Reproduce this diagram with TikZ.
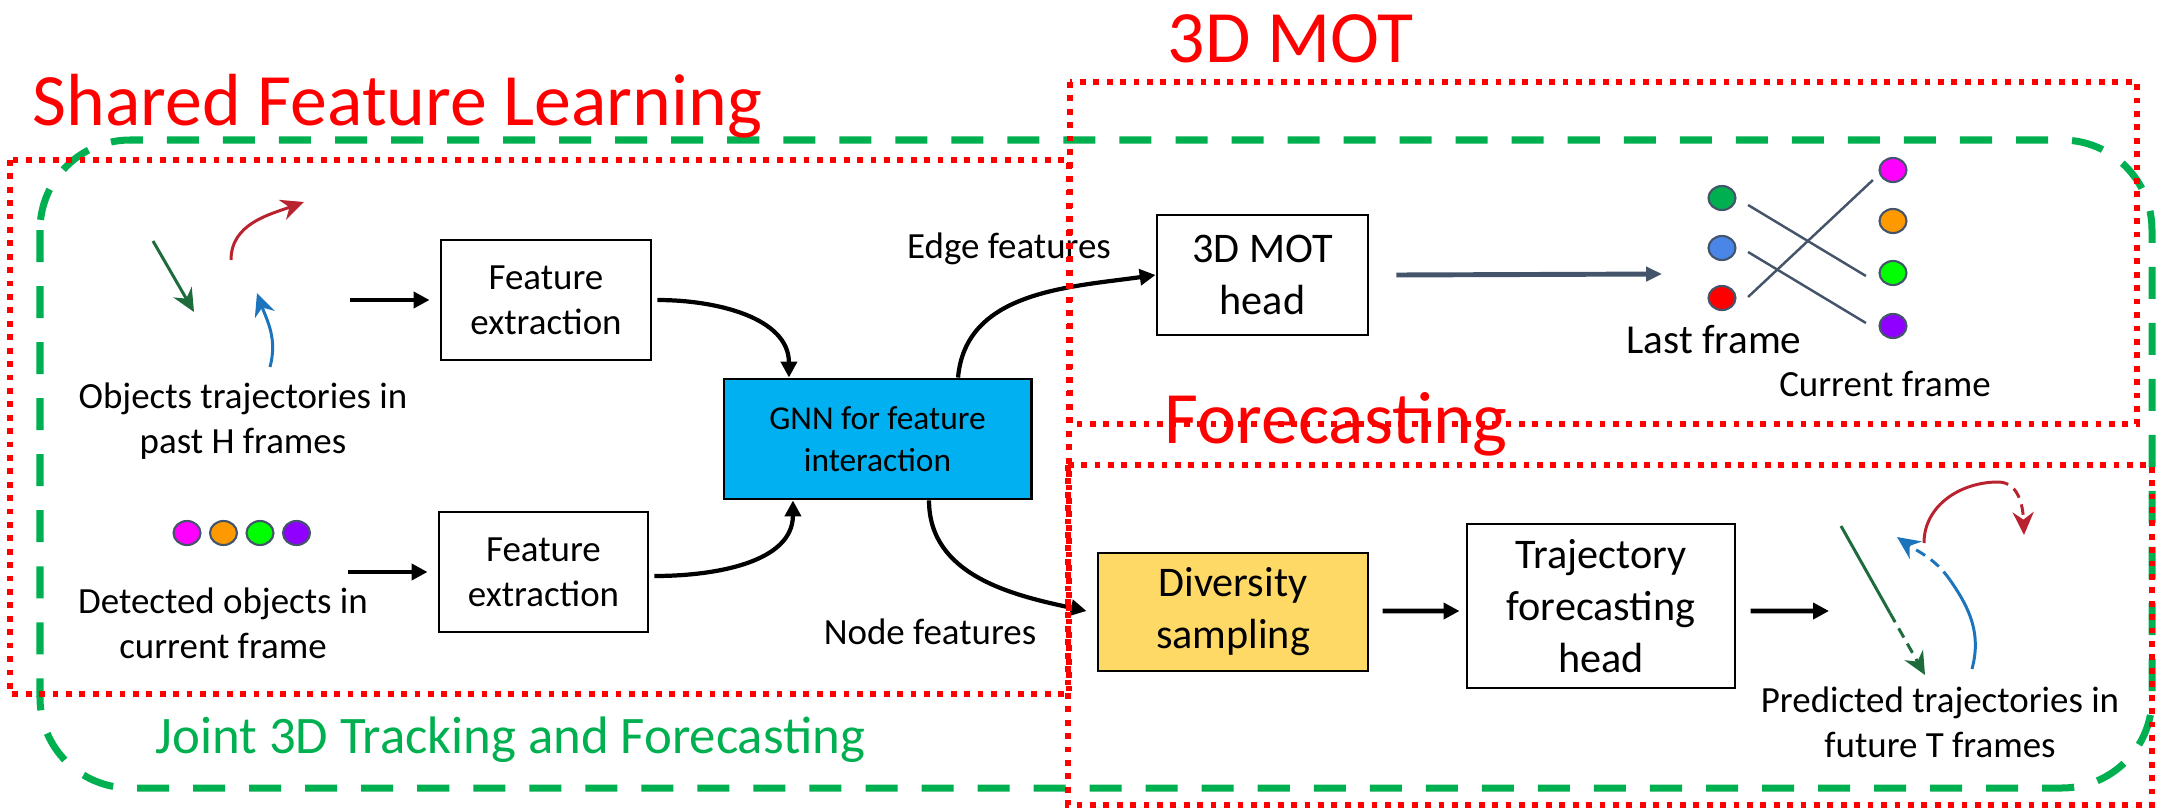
\documentclass[tikz,border=0pt]{standalone}
\usepackage{fontspec}
\setmainfont{Carlito}
\usetikzlibrary{arrows.meta,shapes.geometric,calc}
\definecolor{gnnblue}{HTML}{00B0F0}
\definecolor{divyellow}{HTML}{FFD966}
\definecolor{grpgreen}{HTML}{00B050}
\definecolor{slate}{HTML}{44546A}
\definecolor{trgreen}{HTML}{1E6B3C}
\definecolor{trred}{HTML}{B8232F}
\definecolor{trblue}{HTML}{1C75BC}
\definecolor{dotmag}{HTML}{FF00FF}
\definecolor{dotorange}{HTML}{FF9900}
\definecolor{dotlime}{HTML}{00FF00}
\definecolor{dotpurple}{HTML}{9000FF}
\definecolor{dotgreen}{HTML}{00B050}
\definecolor{dotblue}{HTML}{4A86E8}
\definecolor{dotred}{HTML}{FF0000}
\begin{document}
\begin{tikzpicture}[x=0.01cm,y=0.01cm,
  procbox/.style={draw,line width=0.8pt,align=center,inner sep=0pt},
  ftA/.style={font=\fontsize{10.5}{12.8}\selectfont},
  ftB/.style={font=\fontsize{12}{14.8}\selectfont},
  grptitle/.style={font=\fontsize{21}{25}\selectfont,text=red,anchor=base west,inner sep=0pt},
  flowarrow/.style={line width=1.4pt,-{Triangle[length=4.5pt,width=4.5pt]}},
  curvarrow/.style={line width=1.2pt,-{Triangle[length=4.5pt,width=4.5pt]}},
  objdot/.style={ellipse,draw=slate,line width=0.6pt,minimum width=0.27cm,minimum height=0.24cm,inner sep=0pt},
  reddot/.style={draw=red,line width=0.058cm,dash pattern=on 0.058cm off 0.076cm},
  grpdash/.style={draw=grpgreen,line width=0.07cm,dash pattern=on 0.32cm off 0.24cm,rounded corners=0.9cm},
  trajline/.style={line width=0.85pt},
  trajhead/.style={-{Stealth[length=6.5pt,width=6pt]}},
  trajdash/.style={dash pattern=on 3pt off 2pt},
  lbl/.style={inner sep=0pt,align=center},
  matchline/.style={draw=slate,line width=0.7pt}
]
\useasboundingbox (0,0) rectangle (2162,-809);

% ---------- process boxes ----------
\node[procbox,ftA,minimum width=2.1cm,minimum height=1.2cm] (fe1) at (546,-300) {Feature\\extraction};
\node[procbox,ftA,minimum width=2.09cm,minimum height=1.2cm] (fe2) at (543.5,-572) {Feature\\extraction};
\node[procbox,fill=gnnblue,font=\fontsize{9.5}{12}\selectfont,minimum width=3.07cm,minimum height=1.2cm] (gnn) at (877.5,-439) {GNN for feature\\interaction};
\node[procbox,ftB,minimum width=2.11cm,minimum height=1.2cm] (mot) at (1262.5,-275) {3D MOT\\head};
\node[procbox,ftB,fill=divyellow,minimum width=2.7cm,minimum height=1.18cm] (div) at (1233,-612) {Diversity\\sampling};
\node[procbox,ftB,minimum width=2.68cm,minimum height=1.64cm] (trj) at (1601,-606) {Trajectory\\forecasting\\head};

% ---------- text labels ----------
\node[lbl,ftA] (objtxt) at (243,-421.5) {Objects trajectories in\\past H frames};
\node[lbl,ftA] (dettxt) at (223,-623) {Detected objects in\\current frame};
\node[lbl,ftA] (edgetxt) at (1009,-249) {Edge features};
\node[lbl,ftA] (nodetxt) at (930,-631.5) {Node features};
\node[lbl,font=\fontsize{11.7}{14}\selectfont] (lasttxt) at (1714,-340) {Last frame};
\node[lbl,ftA] (curtxt) at (1885,-383.5) {Current frame};
\node[lbl,ftA] (predtxt) at (1940,-722) {Predicted trajectories in\\future T frames};

% ---------- detected objects dots ----------
\node[objdot,fill=dotmag] (d1) at (187,-533) {};
\node[objdot,fill=dotorange] (d2) at (223.5,-533) {};
\node[objdot,fill=dotlime] (d3) at (260,-533) {};
\node[objdot,fill=dotpurple] (d4) at (296.5,-533) {};

% ---------- matching graph ----------
\node[objdot,fill=dotgreen] (lg) at (1722,-198) {};
\node[objdot,fill=dotblue] (lb) at (1722,-248) {};
\node[objdot,fill=dotred] (lr) at (1722,-298) {};
\node[objdot,fill=dotmag] (rm) at (1893,-170) {};
\node[objdot,fill=dotorange] (ro) at (1893,-221) {};
\node[objdot,fill=dotlime] (rl) at (1893,-273) {};
\node[objdot,fill=dotpurple] (rp) at (1893,-326) {};
\draw[matchline] ($(lg.east)+(11.5,-7)$) -- ($(rl.west)+(-12.5,-3)$);
\draw[matchline] ($(lb.east)+(11.5,-4)$) -- ($(rp.west)+(-12.5,3)$);
\draw[matchline] ($(lr.east)+(11.5,1)$) -- ($(rm.west)+(-5.5,-10)$);

% ---------- past trajectories icon ----------
\draw[trgreen,trajline,trajhead] (153,-241) -- (194,-312);
\draw[trred,trajline,trajhead] (231,-260) to[out=90,in=200] (304,-202);
\draw[trblue,trajline,trajhead] (270,-367) to[out=75,in=-70] (257,-293);

% ---------- predicted trajectories icon ----------
\draw[trgreen,trajline] (1841,-526) -- (1890,-613);
\draw[trgreen,trajline,trajdash,trajhead] (1890,-613) -- (1925,-675);
\draw[trblue,trajline] (1972,-669) to[out=75,in=-55] (1950,-580);
\draw[trblue,trajline,trajdash,trajhead] (1950,-580) to[out=125,in=-35] (1897,-537);
\draw[trred,trajline] (1924,-543) to[out=90,in=180] (1998,-482);
\draw[trred,trajline,trajdash,trajhead] (1998,-482) to[out=0,in=92] (2024,-535);

% ---------- connectors ----------
\coordinate (histend) at (350,-300);
\coordinate (detend) at (348,-572);
\coordinate (lastin) at (1662,-274);
\coordinate (predin) at (1829,-611);
\draw[flowarrow] (histend) -- ([xshift=-0.1cm]fe1.west);
\draw[flowarrow] (detend) -- ([xshift=-0.1cm]fe2.west);
\draw[curvarrow] ([xshift=0.05cm]fe1.east) to[out=0,in=90] ([xshift=-0.885cm]gnn.north);
\draw[curvarrow] ([xshift=0.05cm,yshift=-0.04cm]fe2.east) to[out=0,in=-90] ([xshift=-0.845cm]gnn.south);
\draw[curvarrow] ([xshift=0.805cm]gnn.north) to[out=85,in=188] (mot.west);
\draw[curvarrow] ([xshift=0.515cm]gnn.south) to[out=-90,in=168] ([xshift=-0.1cm,yshift=0.01cm]div.west);
\draw[slate,line width=1.4pt,-{Triangle[length=4.5pt,width=4pt]}] ([xshift=0.27cm]mot.east) -- (lastin);
\draw[flowarrow] ([xshift=0.13cm,yshift=0.01cm]div.east) -- ([xshift=-0.06cm,yshift=-0.05cm]trj.west);
\draw[flowarrow] ([xshift=0.14cm,yshift=-0.05cm]trj.east) -- (predin);

% ---------- group frames ----------
\draw[grpdash] (40,-140) rectangle (2152,-788);
\draw[reddot] (10,-160) rectangle (1069,-694);
\draw[reddot] (1070,-82) rectangle (2137,-424);
\draw[reddot] (1068,-465) rectangle (2152,-805);

% ---------- group titles ----------
\node[grptitle] (t1) at (32,-125) {Shared Feature Learning};
\node[grptitle] (t2) at (1167,-62) {3D MOT};
\node[grptitle] (t3) at (1164,-443) {Forecasting};
\node[anchor=base west,inner sep=0pt,text=grpgreen,font=\fontsize{15}{18}\selectfont] (t4) at (155,-753) {Joint 3D Tracking and Forecasting};
\end{tikzpicture}
\end{document}
